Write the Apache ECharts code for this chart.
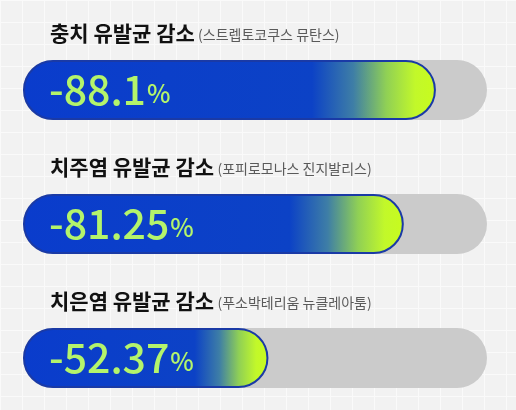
<!DOCTYPE html>
<html><head><meta charset="utf-8">
<script src="https://cdn.jsdelivr.net/npm/echarts@6/dist/echarts.min.js"></script>
<style>
html,body{margin:0;padding:0;}
body{background-color:#f2f2f2;
background-image:linear-gradient(#fafafa 1px, transparent 1px),linear-gradient(90deg,#fafafa 1px, transparent 1px);
background-size:22px 22px;}
#c{width:516px;height:410px;}
</style></head>
<body><div id="c"></div>
<script>
const categories = ['충치 유발균 감소', '치주염 유발균 감소', '치은염 유발균 감소'];
const subtitles = ['(스트렙토코쿠스 뮤탄스)', '(포피로모나스 진지발리스)', '(푸소박테리움 뉴클레아툼)'];
const values = [88.1, 81.25, 52.37];
const valueLabels = ['-88.1', '-81.25', '-52.37'];
const trackMax = 99;

const chart = echarts.init(document.getElementById('c'), null, {renderer:'canvas'});
const FONT = '"Noto Sans CJK KR", "Noto Sans", sans-serif';
chart.setOption({
  backgroundColor: 'transparent',
  animation: false,
  grid: {left: 23, width: 464, top: 90, height: 268},
  xAxis: {type: 'value', min: 0, max: trackMax, show: false},
  yAxis: {type: 'category', data: categories, inverse: true, show: false, boundaryGap: false},
  series: [
    {
      type: 'bar', barWidth: 60, barGap: '-100%', silent: true,
      data: categories.map(() => trackMax),
      itemStyle: {color: '#cbcbcb', borderRadius: 30},
      label: {
        show: true, position: [27, -27], align: 'left', verticalAlign: 'middle',
        formatter: p => '{t|' + categories[p.dataIndex] + '} {s|' + subtitles[p.dataIndex] + '}',
        rich: {
          t: {fontFamily: FONT, fontSize: 21, fontWeight: 'bold', color: '#111111'},
          s: {fontFamily: FONT, fontSize: 14, color: '#5a5a5a', padding: [3, 0, 0, 0]}
        }
      }
    },
    {
      type: 'bar', barWidth: 60, barGap: '-100%', silent: true,
      data: values,
      itemStyle: {
        borderRadius: 30, borderColor: '#1a3aa6', borderWidth: 2,
        color: new echarts.graphic.LinearGradient(0, 0, 1, 0, [
          {offset: 0, color: '#0a3ccc'},
          {offset: 0.7, color: '#0c42c6'},
          {offset: 0.8, color: '#3e7ea6'},
          {offset: 0.88, color: '#90d055'},
          {offset: 0.95, color: '#c2f82a'},
          {offset: 1, color: '#c8fb1e'}
        ])
      },
      label: {
        show: true, position: [26, 29], align: 'left', verticalAlign: 'middle',
        formatter: p => '{n|' + valueLabels[p.dataIndex] + '}{p|%}',
        rich: {
          n: {fontFamily: FONT, fontSize: 41, fontWeight: 500, color: '#b4f46b'},
          p: {fontFamily: FONT, fontSize: 25, fontWeight: 500, color: '#b4f46b', padding: [9, 0, 0, 1]}
        }
      }
    }
  ]
});
</script></body></html>
